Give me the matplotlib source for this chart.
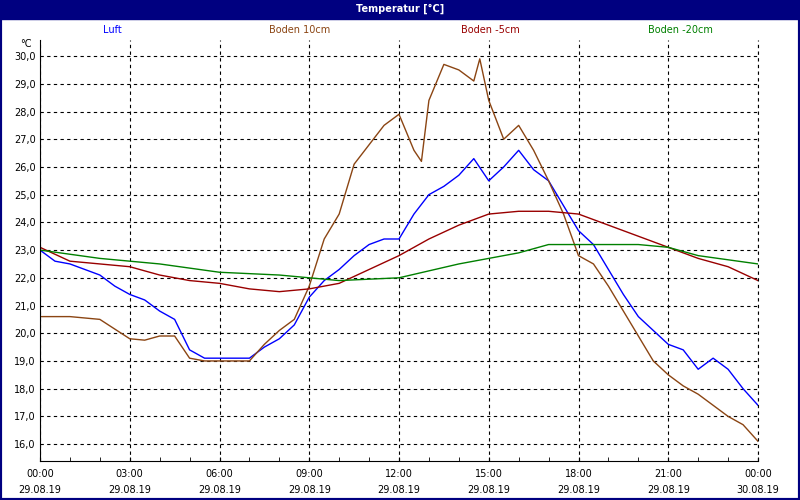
import matplotlib
matplotlib.use("Agg")
import matplotlib.pyplot as plt
from matplotlib.patches import Rectangle
import numpy as np

hours_luft = [0,0.5,1,2,2.5,3,3.5,4,4.5,5,5.5,6,7,7.5,8,8.5,9,9.5,10,10.5,11,11.5,12,12.5,13,13.5,14,14.5,15,15.5,16,16.5,17,17.5,18,18.5,19,19.5,20,20.5,21,21.5,22,22.5,23,23.5,24]
luft = [23.0,22.6,22.5,22.1,21.7,21.4,21.2,20.8,20.5,19.4,19.1,19.1,19.1,19.5,19.8,20.3,21.3,21.9,22.3,22.8,23.2,23.4,23.4,24.3,25.0,25.3,25.7,26.3,25.5,26.0,26.6,25.9,25.5,24.6,23.7,23.2,22.3,21.4,20.6,20.1,19.6,19.4,18.7,19.1,18.7,18.0,17.4]

hours_b10 = [0,1,2,3,3.5,4,4.5,5,5.5,6,7,7.5,8,8.5,9,9.5,10,10.5,11,11.5,12,12.5,12.75,13,13.5,14,14.5,14.7,15,15.5,16,16.5,17,17.5,18,18.5,19,19.5,20,20.5,21,21.5,22,22.5,23,23.5,24]
boden10 = [20.6,20.6,20.5,19.8,19.75,19.9,19.9,19.1,19.0,19.0,19.0,19.6,20.1,20.5,21.7,23.4,24.3,26.1,26.8,27.5,27.9,26.6,26.2,28.4,29.7,29.5,29.1,29.9,28.4,27.0,27.5,26.6,25.5,24.3,22.8,22.5,21.7,20.8,19.9,19.0,18.5,18.1,17.8,17.4,17.0,16.7,16.1]

hours_b5 = list(range(25))
boden5 = [23.1,22.6,22.5,22.4,22.1,21.9,21.8,21.6,21.5,21.6,21.8,22.3,22.8,23.4,23.9,24.3,24.4,24.4,24.3,23.9,23.5,23.1,22.7,22.4,21.9]

hours_b20 = [0,2,4,6,8,10,12,14,16,17,18,20,21,22,24]
boden20 = [23.0,22.7,22.5,22.2,22.1,21.9,22.0,22.5,22.9,23.2,23.2,23.2,23.1,22.8,22.5]

series_names = ["Luft", "Boden 10cm", "Boden -5cm", "Boden -20cm"]
colors = ["#0000ff", "#8b4513", "#990000", "#008000"]
x_ticks = [0,3,6,9,12,15,18,21,24]
x_labels = ["00:00\n29.08.19","03:00\n29.08.19","06:00\n29.08.19","09:00\n29.08.19",
            "12:00\n29.08.19","15:00\n29.08.19","18:00\n29.08.19","21:00\n29.08.19","00:00\n30.08.19"]
y_ticks = np.arange(16, 31)

plt.rcParams["font.family"] = "DejaVu Sans"
fig = plt.figure(figsize=(8, 5), dpi=100)
navy = "#000080"
fig.patches.append(Rectangle((0, 0), 1, 1, transform=fig.transFigure, fill=False, ec=navy, lw=3))
fig.patches.append(Rectangle((0, 1 - 19/500), 1, 19/500, transform=fig.transFigure, fc=navy, ec=navy))
fig.text(0.5, 1 - 9/500, "Temperatur [°C]", color="white", ha="center", va="center", fontsize=7, weight="bold")

ax = fig.add_axes([40/800, 1 - 461/500, 718/800, 421/500])
data = [(hours_luft, luft), (hours_b10, boden10), (hours_b5, boden5), (hours_b20, boden20)]
for (h, v), c in zip(data, colors):
    ax.plot(h, v, color=c, lw=1)
ax.set_xlim(0, 24)
ax.set_ylim(15.39, 30.58)
ax.set_xticks(x_ticks)
ax.set_xticklabels(x_labels, fontsize=7, linespacing=1.7)
ax.set_xticks(range(25), minor=True)
ax.set_yticks(y_ticks)
ax.set_yticklabels([f"{t:.1f}".replace(".", ",") for t in y_ticks], fontsize=7)
ax.tick_params(axis="y", length=0, pad=3)
ax.tick_params(axis="x", which="both", length=3, direction="in", pad=6)
ax.grid(True, color="black", linestyle=(0, (3, 3)), lw=0.8)
for s in ["top", "right"]:
    ax.spines[s].set_visible(False)
ax.axvline(24, color="black", linestyle=(0, (3, 3)), lw=0.8, clip_on=False)
fig.text(32/800, 1 - 44/500, "°C", fontsize=7, ha="right", va="center")
for name, c, xc in zip(series_names, colors, [112, 300, 490, 680]):
    fig.text(xc/800, 1 - 30/500, name, color=c, fontsize=7, ha="center", va="center")
fig.savefig("out.png", dpi=100)
